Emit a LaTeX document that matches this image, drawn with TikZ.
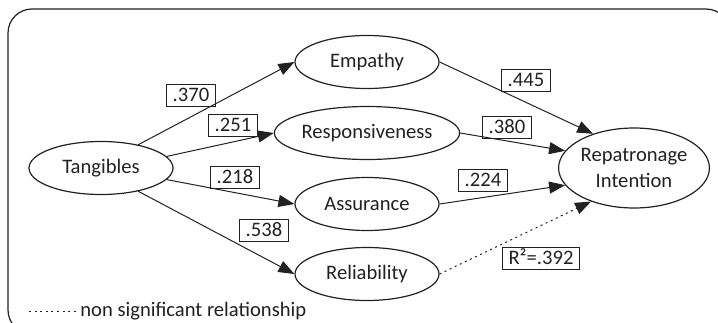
\documentclass[tikz,border=0pt]{standalone}
\usepackage{fontspec}
\setmainfont{Carlito}
\usepackage{xcolor}
\usetikzlibrary{arrows.meta}
\usetikzlibrary{shapes.geometric}

\definecolor{ink}{gray}{0.13}

\tikzset{
  construct/.style={draw=ink, text=ink, ellipse, line width=0.6pt, inner sep=0pt,
    minimum width=72pt, minimum height=26.5pt, font=\fontsize{10.3}{13}\selectfont},
  coef/.style={draw=ink, text=ink, line width=0.5pt, inner xsep=3pt, inner ysep=2.2pt,
    text height=6.6pt, text depth=0pt, font=\fontsize{10.3}{12}\selectfont},
  link/.style={draw=ink, line width=0.5pt, -{Triangle[length=8pt,width=6pt]}},
  nonsig/.style={link, dash pattern=on 1pt off 1.8pt}
}

\begin{document}
\begin{tikzpicture}[x=0.5pt, y=-0.5pt]
    \useasboundingbox (0,0) rectangle (718,322);

    % Cadre
    \draw[ink, line width=0.6pt, rounded corners=12pt] (8,9) rectangle (730,334);

    % Construits
    \node[construct] (tang) at (101,168) {Tangibles};
    \node[construct] (emp) at (367,62) {Empathy};
    \node[construct, minimum width=89.5pt] (resp) at (367,133) {Responsiveness};
    \node[construct] (assur) at (367,204) {Assurance};
    \node[construct] (rel) at (367,274) {Reliability};
    \node[construct, minimum width=72.5pt, minimum height=40pt, align=center] (rep) at (634,168) {Repatronage\\Intention};

    % Chemins
    \draw[link] (tang.32) -- (emp.west);
    \draw[link] (tang.10) -- (resp.west);
    \draw[link] (tang.-10) -- (assur.west);
    \draw[link] (tang.-32) -- (rel.west);
    \draw[link] (emp.east) -- (rep.140);
    \draw[link] (resp.east) -- (rep.166);
    \draw[link] (assur.east) -- (rep.194);
    \draw[nonsig] (rel.east) -- (rep.218);

    % Coefficients
    \node[coef] (c370) at (191,95) {.370};
    \node[coef] (c251) at (233,125) {.251};
    \node[coef] (c218) at (235,177) {.218};
    \node[coef] (c538) at (264,230) {.538};
    \node[coef] (c445) at (526,80) {.445};
    \node[coef] (c380) at (507,127) {.380};
    \node[coef] (c224) at (483,180) {.224};
    \node[coef] (rsq) at (541,258) {R²=.392};

    % Légende
    \coordinate (legstart) at (29,311);
    \node[anchor=west, text=ink, inner sep=0pt, font=\fontsize{10.3}{12}\selectfont] (legtext) at (80,311) {non significant relationship};
    \draw[ink, line width=0.5pt, dash pattern=on 1pt off 1.8pt] (legstart) -- ([xshift=-2pt]legtext.west);
\end{tikzpicture}
\end{document}
